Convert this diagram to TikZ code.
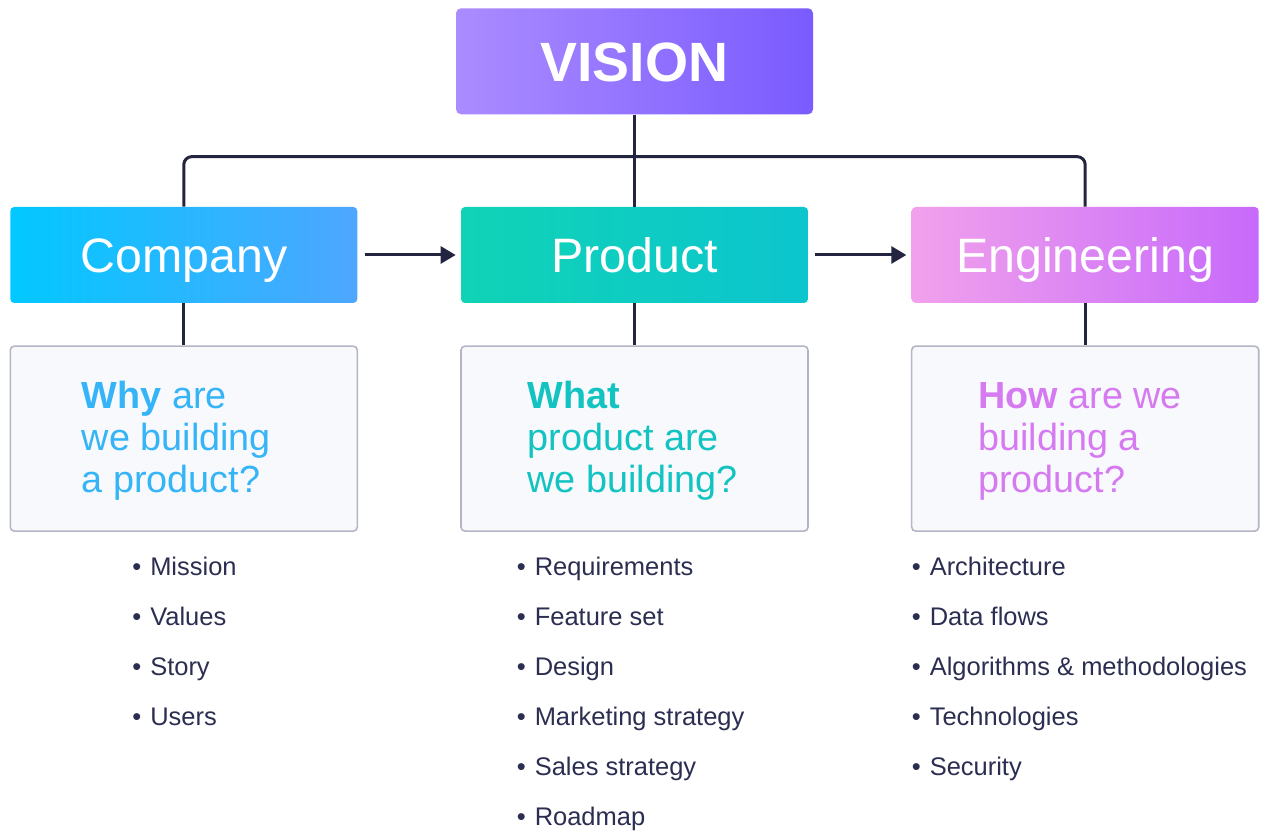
\documentclass[tikz,border=0pt]{standalone}
\usepackage{fontspec}
\setmainfont{Liberation Sans}
\usepackage{xcolor}
\usetikzlibrary{arrows.meta,positioning}

\definecolor{ink}{HTML}{23243F}
\definecolor{listink}{HTML}{2B2E50}
\definecolor{qfill}{HTML}{F8F9FC}
\definecolor{qline}{HTML}{B3B5C4}
\definecolor{visL}{HTML}{AB8CFF}
\definecolor{visR}{HTML}{7A5BFF}
\definecolor{coL}{HTML}{02C8FF}
\definecolor{coR}{HTML}{4EA6FF}
\definecolor{prL}{HTML}{10D3B6}
\definecolor{prR}{HTML}{0CC5CE}
\definecolor{enL}{HTML}{F1A1EC}
\definecolor{enR}{HTML}{C76AFB}
\definecolor{coText}{HTML}{35B4F7}
\definecolor{prText}{HTML}{12C3C2}
\definecolor{enText}{HTML}{D67AF2}

\begin{document}
\begin{tikzpicture}[
    node distance=0.84cm and 2.06cm,
    head/.style={rectangle, rounded corners=0.08cm, minimum width=6.94cm, minimum height=1.92cm,
                 text=white, text height=19.8pt, text depth=0pt, font=\fontsize{27.5}{30}\selectfont},
    question/.style={rectangle, draw=qline, line width=0.9pt, fill=qfill, rounded corners=0.08cm,
                     minimum width=6.94cm, minimum height=3.7cm},
    qtext/.style={inner sep=0pt, align=left, font=\fontsize{21.5}{23.9}\selectfont},
    link/.style={draw=ink, line width=0.06cm},
    arrow/.style={link, -{Triangle[length=0.3cm, width=0.34cm]}},
    entry/.style={anchor=base west, inner sep=0pt, text=listink, font=\fontsize{14.5}{16}\selectfont}
]
\useasboundingbox (0,0) rectangle (25.3,16.62);

% Three pillars
\node[head, left color=prL, right color=prR] (pr) at (12.69,11.52) {Product};
\node[head, left color=coL, right color=coR, left=of pr] (co) {Company};
\node[head, left color=enL, right color=enR, right=of pr] (en) {Engineering};

% Vision on top
\node[head, left color=visL, right color=visR, minimum width=7.14cm, minimum height=2.12cm,
      rounded corners=0.1cm, text height=22.6pt, font=\fontsize{31.5}{34}\selectfont\bfseries,
      above=1.84cm of pr] (vis) {VISION};

% Question boxes
\node[question, below=of co] (qco) {};
\node[question, below=of pr] (qpr) {};
\node[question, below=of en] (qen) {};

\node[qtext, text=coText, anchor=west, right=1.44cm of qco.west, yshift=-0.05cm] (tco)
    {\textbf{Why} are\\we building\\a product?};
\node[qtext, text=prText, anchor=west, right=1.34cm of qpr.west, yshift=-0.05cm] (tpr)
    {\textbf{What}\\product are\\we building?};
\node[qtext, text=enText, anchor=west, right=1.34cm of qen.west, yshift=-0.05cm] (ten)
    {\textbf{How} are we\\building a\\product?};

% Tree lines
\draw[link] (vis.south) -- (pr.north);
\draw[link, rounded corners=0.16cm] (co.north) |- ([yshift=-0.84cm]vis.south) -| (en.north);
\draw[link] (co) -- (qco);
\draw[link] (pr) -- (qpr);
\draw[link] (en) -- (qen);

% Flow arrows
\draw[arrow, shorten <=0.14cm, shorten >=0.1cm] (co) -- (pr);
\draw[arrow, shorten <=0.14cm, shorten >=0.1cm] (pr) -- (en);

% Lists
\foreach \txt [count=\i] in {Mission, Values, Story, Users}
    \node[entry] (lco-\i) at (2.64, 5.10-\i+1) {\textbullet\hspace{0.18cm}\txt};
\foreach \txt [count=\i] in {Requirements, Feature set, Design, Marketing strategy, Sales strategy, Roadmap}
    \node[entry] (lpr-\i) at (10.33, 5.10-\i+1) {\textbullet\hspace{0.18cm}\txt};
\foreach \txt [count=\i] in {Architecture, Data flows, Algorithms \& methodologies, Technologies, Security}
    \node[entry] (len-\i) at (18.23, 5.10-\i+1) {\textbullet\hspace{0.18cm}\txt};
\end{tikzpicture}
\end{document}
